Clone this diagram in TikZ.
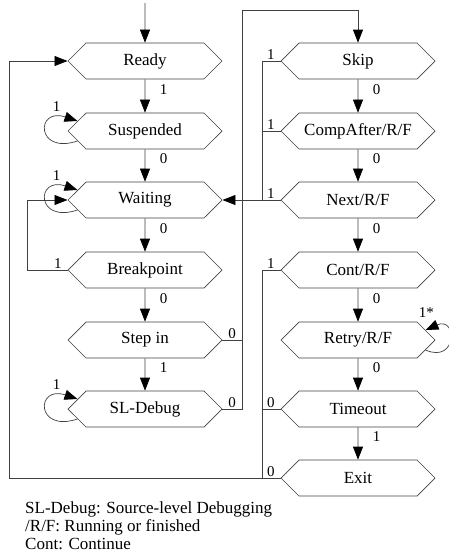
\documentclass[tikz,border=0pt]{standalone}
\usepackage{fontspec}
\setmainfont{Liberation Serif}
\usetikzlibrary{shapes.symbols,arrows.meta}

\newcommand{\nodefont}{\rmfamily\fontsize{17}{18}\selectfont}
\newcommand{\lblfont}{\rmfamily\fontsize{15}{16}\selectfont}

\begin{document}
\begin{tikzpicture}[x=1pt,y=-1pt,
    state/.style={draw=black!75, line width=0.7pt, signal, signal to=east and west,
      signal pointer angle=90, minimum width=154pt, minimum height=36pt,
      inner sep=0pt, font=\nodefont},
    line/.style={draw=black!75, line width=0.7pt},
    flow/.style={line, -{Triangle[length=13pt,width=10pt,black]}},
    lbl/.style={font=\lblfont, inner sep=1.5pt},
    tagl/.style={lbl, above left, xshift=-4pt},
    tagr/.style={lbl, above right, xshift=4pt}]
  \useasboundingbox (0,0) rectangle (449,555);
  % left column
  \node[state] (1) at (145,61) {Ready};
  \node[state] (2) at (145,131) {Suspended};
  \node[state] (3) at (145,200) {Waiting};
  \node[state] (4) at (145,270) {Breakpoint};
  \node[state] (5) at (145,340) {Step in};
  \node[state] (6) at (145,409) {SL-Debug};
  % right column
  \node[state] (7) at (358,61) {Skip};
  \node[state] (8) at (358,131) {CompAfter/R/F};
  \node[state] (9) at (358,200) {Next/R/F};
  \node[state] (10) at (358,270) {Cont/R/F};
  \node[state] (11) at (358,340) {Retry/R/F};
  \node[state] (12) at (358,409) {Timeout};
  \node[state] (13) at (358,478) {Exit};
  \coordinate (in) at (145,3);
  \coordinate (top) at (242,10);
  \coordinate (back) at (9,478);
  % straight down
  \draw[flow] (in) -- (1);
  \draw[flow] (1) -- node[lbl,right,pos=0.3,xshift=13pt]{1} (2);
  \draw[flow] (2) -- node[lbl,right,pos=0.3,xshift=13pt]{0} (3);
  \draw[flow] (3) -- node[lbl,right,pos=0.3,xshift=13pt]{0} (4);
  \draw[flow] (4) -- node[lbl,right,pos=0.3,xshift=13pt]{0} (5);
  \draw[flow] (5) -- node[lbl,right,pos=0.3,xshift=13pt]{1} (6);
  \draw[flow] (7) -- node[lbl,right,pos=0.3,xshift=13pt]{0} (8);
  \draw[flow] (8) -- node[lbl,right,pos=0.3,xshift=13pt]{0} (9);
  \draw[flow] (9) -- node[lbl,right,pos=0.3,xshift=13pt]{0} (10);
  \draw[flow] (10) -- node[lbl,right,pos=0.3,xshift=13pt]{0} (11);
  \draw[flow] (11) -- node[lbl,right,pos=0.3,xshift=13pt]{0} (12);
  \draw[flow] (12) -- node[lbl,right,pos=0.3,xshift=13pt]{1} (13);
  % self loops
  \draw[flow] ([shift={(10,10)}]2.west) .. controls +(-42,14) and +(-42,-14) .. ([shift={(10,-10)}]2.west);
  \node[lbl] at ([shift={(-11,-24)}]2.west) {1};
  \draw[flow] ([shift={(10,10)}]3.west) .. controls +(-42,14) and +(-42,-14) .. ([shift={(10,-10)}]3.west);
  \node[lbl] at ([shift={(-11,-24)}]3.west) {1};
  \draw[flow] ([shift={(10,10)}]6.west) .. controls +(-42,14) and +(-42,-14) .. ([shift={(10,-10)}]6.west);
  \node[lbl] at ([shift={(-11,-24)}]6.west) {1};
  \draw[flow] ([shift={(-10,10)}]11.east) .. controls +(32,14) and +(32,-14) .. ([shift={(-10,-10)}]11.east);
  \node[lbl] at ([shift={(-9,-27)}]11.east) {1*};
  % back to Ready
  \draw[flow] (13.west) node[tagl]{0} -- (back) |- (1.west);
  \draw[line] (12.west) node[tagl]{0} -- ++(-18,0);
  \draw[line] (10.west) node[tagl]{1} -| ([xshift=-18pt]13.west);
  % back to Waiting
  \draw[line] (7.west) node[tagl]{1} -| ([xshift=-18pt]9.west);
  \draw[line] (8.west) node[tagl]{1} -- ++(-18,0);
  \draw[flow] (9.west) node[tagl]{1} -- (3.east);
  \draw[flow] (4.west) node[tagl]{1} -- ++(-40,0) |- (3.west);
  % over to Skip
  \draw[line] (5.east) node[tagr]{0} -- ++(20,0);
  \draw[flow] (6.east) node[tagr]{0} -| (top) -| (7.north);
  % legend
  \node[anchor=north west, align=left, font=\nodefont, inner sep=0pt] (legend) at (25,501)
    {SL-Debug: Source-level Debugging\\/R/F: Running or finished\\Cont: Continue};
\end{tikzpicture}
\end{document}
